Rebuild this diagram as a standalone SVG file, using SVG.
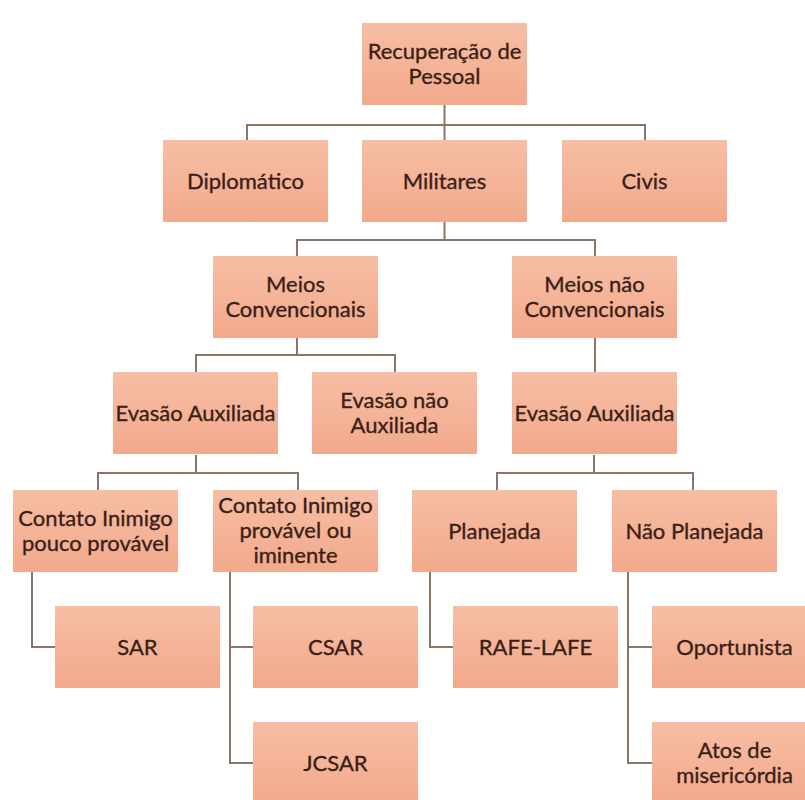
<svg xmlns="http://www.w3.org/2000/svg" width="805" height="800" viewBox="0 0 805 800">
<defs>
<linearGradient id="g" x1="0" y1="0" x2="0" y2="1">
<stop offset="0" stop-color="#F7BEA4"/>
<stop offset="1" stop-color="#F2A98C"/>
</linearGradient>
<style>
.box{fill:url(#g);}
.t{font-family:Lato,"Liberation Sans",sans-serif;font-size:22px;fill:#3A1F18;stroke:#3A1F18;stroke-width:0.35;text-anchor:middle;}
.c{fill:none;stroke:#8C7466;stroke-width:2;}
</style>
</defs>
<rect width="805" height="800" fill="#ffffff"/>
<g id="connectors">
<path class="c" d="M444.5 105V125M247 140V125H645V140M444.5 125V140"/>
<path class="c" d="M444.5 222V240M297 256V240H595V256"/>
<path class="c" d="M297 338V355M196 372V355H395V372"/>
<path class="c" d="M595 338V372"/>
<path class="c" d="M196 455V473M98 490V473H298V490"/>
<path class="c" d="M594 455V473M497 490V473H693V490"/>
<path class="c" d="M32 572V647H55"/>
<path class="c" d="M230 572V763H253M230 647H253"/>
<path class="c" d="M430 572V647H453"/>
<path class="c" d="M628 572V763H652M628 647H652"/>
</g>
<g id="root"><rect class="box" x="362" y="23" width="165" height="82"/><text class="t" x="444.5" y="58.5">Recuperação de</text><text class="t" x="444.5" y="83.5">Pessoal</text></g>
<g id="diplomatico"><rect class="box" x="163" y="140" width="165" height="82"/><text class="t" x="245.5" y="189">Diplomático</text></g>
<g id="militares"><rect class="box" x="362" y="140" width="165" height="82"/><text class="t" x="444.5" y="189">Militares</text></g>
<g id="civis"><rect class="box" x="562" y="140" width="165" height="82"/><text class="t" x="644.5" y="189">Civis</text></g>
<g id="meios-conv"><rect class="box" x="213" y="256" width="165" height="82"/><text class="t" x="295.5" y="292">Meios</text><text class="t" x="295.5" y="317">Convencionais</text></g>
<g id="meios-nao-conv"><rect class="box" x="512" y="256" width="165" height="82"/><text class="t" x="594.5" y="292">Meios não</text><text class="t" x="594.5" y="317">Convencionais</text></g>
<g id="evasao-aux-1"><rect class="box" x="113" y="372" width="165" height="82"/><text class="t" x="195.5" y="421">Evasão Auxiliada</text></g>
<g id="evasao-nao-aux"><rect class="box" x="312" y="372" width="165" height="82"/><text class="t" x="394.5" y="408">Evasão não</text><text class="t" x="394.5" y="433">Auxiliada</text></g>
<g id="evasao-aux-2"><rect class="box" x="512" y="372" width="165" height="82"/><text class="t" x="594.5" y="421">Evasão Auxiliada</text></g>
<g id="contato-pouco"><rect class="box" x="13" y="490" width="165" height="82"/><text class="t" x="95.5" y="526">Contato Inimigo</text><text class="t" x="95.5" y="551">pouco provável</text></g>
<g id="contato-provavel"><rect class="box" x="213" y="490" width="165" height="82"/><text class="t" x="295.5" y="513">Contato Inimigo</text><text class="t" x="295.5" y="538">provável ou</text><text class="t" x="295.5" y="563">iminente</text></g>
<g id="planejada"><rect class="box" x="412" y="490" width="165" height="82"/><text class="t" x="494.5" y="539">Planejada</text></g>
<g id="nao-planejada"><rect class="box" x="612" y="490" width="165" height="82"/><text class="t" x="694.5" y="539">Não Planejada</text></g>
<g id="sar"><rect class="box" x="55" y="606" width="165" height="82"/><text class="t" x="137.5" y="655">SAR</text></g>
<g id="csar"><rect class="box" x="253" y="606" width="165" height="82"/><text class="t" x="335.5" y="655">CSAR</text></g>
<g id="jcsar"><rect class="box" x="253" y="722" width="165" height="82"/><text class="t" x="335.5" y="771">JCSAR</text></g>
<g id="rafe-lafe"><rect class="box" x="453" y="606" width="165" height="82"/><text class="t" x="535.5" y="655">RAFE-LAFE</text></g>
<g id="oportunista"><rect class="box" x="652" y="606" width="165" height="82"/><text class="t" x="734.5" y="655">Oportunista</text></g>
<g id="atos"><rect class="box" x="652" y="722" width="165" height="82"/><text class="t" x="734.5" y="758">Atos de</text><text class="t" x="734.5" y="783">misericórdia</text></g>
</svg>
